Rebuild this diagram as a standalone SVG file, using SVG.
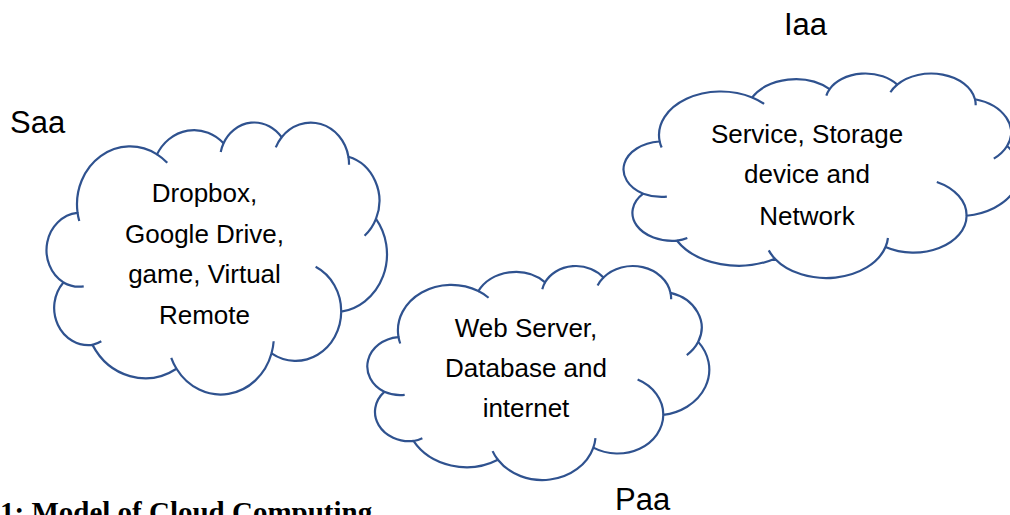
<svg xmlns="http://www.w3.org/2000/svg" xmlns:xlink="http://www.w3.org/1999/xlink" width="1010" height="515" viewBox="0 0 1010 515">
  <style>
    .cloud-outer { fill: #ffffff; stroke: #2F528F; stroke-width: 2.2; vector-effect: non-scaling-stroke; stroke-linejoin: round; }
    .cloud-inner { fill: none; stroke: #2F528F; stroke-width: 2.2; vector-effect: non-scaling-stroke; stroke-linecap: butt; }
    .ctext { font-family: "Liberation Sans", Arial, sans-serif; font-size: 26px; fill: #000000; text-anchor: middle; }
    .label { font-family: "Liberation Sans", Arial, sans-serif; font-size: 31px; fill: #000000; }
    .caption { font-family: "Liberation Serif", "Times New Roman", serif; font-size: 29px; font-weight: bold; fill: #000000; }
  </style>
  <defs>
    <path id="cloudOuter" class="cloud-outer" d="M3900,14370 A6753,9190 0 0 1 14005,5202 A5333,7267 0 0 1 22456,3431 A4365,5945 0 0 1 29833,2480 A4857,6595 0 0 1 38318,5575 A5333,7273 0 0 1 41819,15459 A6775,9220 0 0 1 37403,30200 A5785,7867 0 0 1 28555,36811 A6752,9215 0 0 1 16480,39264 A7720,10543 0 0 1 5805,35470 A4360,5918 0 0 1 2113,25549 A4345,5945 0 0 1 3863,14506 Z"/>
    <path id="cloudInner" class="cloud-inner" d="M4693,26177 A4345,5945 0 0 1 2113,25549 M6928,34899 A4360,5918 0 0 1 5805,35470 M16480,39264 A6752,9215 0 0 1 15812,37522 M28822,34901 A6752,9215 0 0 1 28555,36811 M34152,23065 A5785,7867 0 0 1 37403,30200 M41819,15459 A5333,7273 0 0 1 40371,18135 M38318,5575 A4857,6595 0 0 1 38394,6839 M29091,4093 A4857,6595 0 0 1 29833,2480 M22097,4821 A4365,5945 0 0 1 22456,3431 M14005,5202 A6753,9190 0 0 1 15306,6552 M4127,15789 A6753,9190 0 0 1 3900,14370"/>
  </defs>

  <g id="connectors"></g>

  <g id="saas">
    <g transform="translate(46.78,121.62) scale(0.0078719,0.0062941)">
      <use href="#cloudOuter" xlink:href="#cloudOuter"/>
      <use href="#cloudInner" xlink:href="#cloudInner"/>
    </g>
    <text class="ctext" x="204.5" y="202">Dropbox,</text>
    <text class="ctext" x="204.5" y="242.5">Google Drive,</text>
    <text class="ctext" x="204.5" y="283">game, Virtual</text>
    <text class="ctext" x="204.5" y="323.5">Remote</text>
    <text class="label" x="10" y="132.7">Saa</text>
  </g>

  <g id="paas">
    <g transform="translate(367.58,265.31) scale(0.0079066,0.0049520)">
      <use href="#cloudOuter" xlink:href="#cloudOuter"/>
      <use href="#cloudInner" xlink:href="#cloudInner"/>
    </g>
    <text class="ctext" x="526" y="336.7">Web Server,</text>
    <text class="ctext" x="526" y="377">Database and</text>
    <text class="ctext" x="526" y="417.3">internet</text>
    <text class="label" x="615" y="509.5">Paa</text>
  </g>

  <g id="iaas">
    <g transform="translate(623.83,72.84) scale(0.0091643,0.0047322)">
      <use href="#cloudOuter" xlink:href="#cloudOuter"/>
      <use href="#cloudInner" xlink:href="#cloudInner"/>
    </g>
    <text class="ctext" x="807" y="142.7">Service, Storage</text>
    <text class="ctext" x="807" y="183.3">device and</text>
    <text class="ctext" x="807" y="225">Network</text>
    <text class="label" x="784" y="35">Iaa</text>
  </g>

  <g id="caption">
    <text class="caption" x="0" y="522">1: Model of Cloud Computing</text>
  </g>
</svg>
